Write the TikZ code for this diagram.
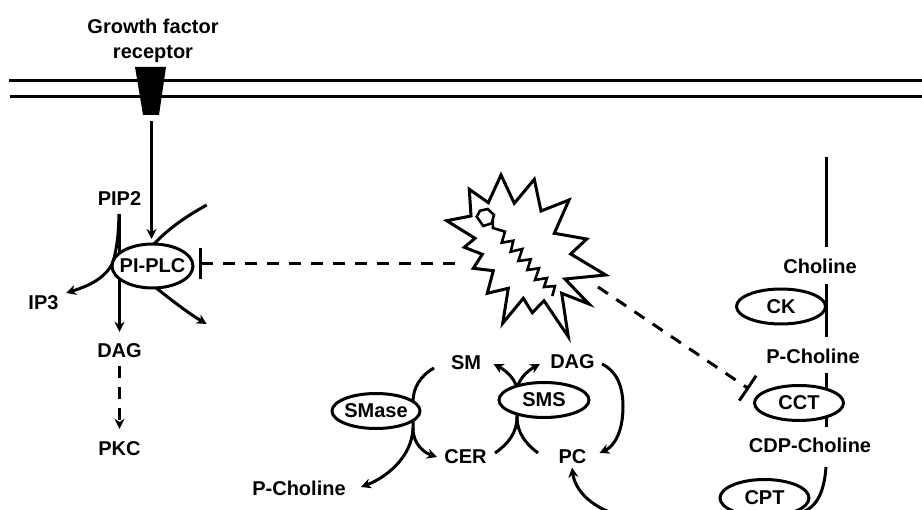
\documentclass[tikz,border=0pt]{standalone}
\usepackage{fontspec}
\setmainfont{Liberation Sans}
\usetikzlibrary{positioning, shapes.geometric, backgrounds, arrows.meta}

\begin{document}
\begin{tikzpicture}[
        x=1pt, y=-1pt,
        >={Stealth[length=10pt, width=10pt]},
        every node/.style={font=\fontsize{20}{25}\selectfont\bfseries},
        chem/.style={inner sep=8pt, text height=14pt, text depth=0pt},
        enzyme/.style={ellipse, draw=black, fill=white, line width=3pt, inner sep=0pt, minimum width=89pt, minimum height=35pt, text height=14pt, text depth=0pt},
        link/.style={line width=3pt},
        arrow/.style={->, line width=3pt},
        dasharrow/.style={->, line width=3pt, dash pattern=on 12pt off 9pt},
        block/.style={line width=3pt, dash pattern=on 12pt off 10pt},
        membrane/.style={line width=3pt}
    ]
        \useasboundingbox (0,0) rectangle (922,510);

        % Membrane and receptor
        \coordinate (memtopl) at (9,80.5);
        \coordinate (memtopr) at (922,80.5);
        \coordinate (membotl) at (10,96.5);
        \coordinate (membotr) at (922,96.5);
        \draw[membrane] (memtopl) -- (memtopr);
        \draw[membrane] (membotl) -- (membotr);
        \fill (135,67) -- (166,67) -- (159,115) -- (143,115) -- cycle;
        \coordinate (recout) at (151.5,121);

        % Nodes
        \node[align=center, inner sep=0pt] (gfr) at (153,41) {Growth factor\\receptor};
        \node[chem] (pip2) at (119.5,199) {PIP2};
        \node[enzyme, minimum width=81pt, minimum height=44pt] (plc) at (152.5,266) {\makebox[0pt]{PI-PLC}};
        \node[chem] (ip3) at (43.5,303) {IP3};
        \node[chem] (dag1) at (119.5,351) {DAG};
        \node[chem] (pkc) at (119.5,449) {PKC};
        \node[chem] (sm) at (466,363) {SM};
        \node[chem] (dag2) at (572.5,362) {DAG};
        \node[enzyme, minimum width=88pt] (smase) at (376,411) {\makebox[0pt]{SMase}};
        \node[enzyme, minimum width=90pt] (sms) at (544,400) {SMS};
        \node[chem] (cer) at (465.5,457) {CER};
        \node[chem] (pc) at (572.5,457) {PC};
        \node[chem] (pcho1) at (299,489) {P-Choline};
        \node[chem] (cho) at (820,267) {Choline};
        \node[enzyme] (ck) at (781,306.5) {CK};
        \node[chem] (pcho2) at (813,357) {P-Choline};
        \node[enzyme] (cct) at (799,403) {CCT};
        \node[chem] (cdp) at (810,446) {CDP-Choline};
        \node[enzyme, minimum height=37pt] (cpt) at (764.5,498) {CPT};

        % Burst
        \draw[line width=3pt, miter limit=10] (501,175) -- (514.3,203.3) -- (534.3,179.3) -- (541,211) -- (569,200) -- (554.3,233.3) -- (586.7,239) -- (570.7,254) -- (605.7,275) -- (565,279) -- (589,304) -- (561.7,293.3) -- (568.3,336.7) -- (544,300.7) -- (532.3,312.7) -- (523.3,298.3) -- (502.7,323.3) -- (508.3,288.3) -- (487.3,293.3) -- (493.3,270.7) -- (473.3,268.3) -- (482.3,254.3) -- (464.3,247.3) -- (475,238.3) -- (446.7,220.7) -- (471,216) -- (469.3,189.3) -- (488.3,202.7) -- cycle;
        \draw[line width=2.6pt] (476.7,216.7) -- (480,210.7) -- (487.7,209) -- (494,215) -- (491.7,223.3) -- (483.3,226) -- cycle;
        \draw[line width=2.6pt] (492.7,220) -- (493,228) -- (505,231.7) -- (501.7,242.7) -- (513.3,240.7) -- (510.7,251.7) -- (522.3,249) -- (518.3,261) -- (530.7,259.3) -- (527.3,270) -- (539,268.3) -- (535,280) -- (547,278) -- (544,287) -- (555,286) -- (552.3,296);

        % Free ends
        \coordinate (burstw) at (463,264);
        \coordinate (burste) at (598,287);
        \coordinate (plcbar) at (198.5,264);
        \coordinate (cctbar) at (749,389);
        \coordinate (plcin) at (206.7,205);
        \coordinate (plcout) at (206.7,324);
        \coordinate (chotop) at (826.5,157);

        % Connections
        \begin{scope}[on background layer]
            \draw[arrow] (recout) -- (151.5,239);
            \draw[arrow, shorten >=4pt] (pip2.south) -- (dag1.north);
            \draw[arrow] (119,214) .. controls (118.5,235) and (117,248) .. (113,262) .. controls (105,280) and (85,287) .. (66,293);
            \draw[link] (plcin) .. controls (185,217) and (168,229) .. (153,245);
            \draw[arrow] (155,287) .. controls (170,299) and (188,313) .. (plcout);
            \draw[dasharrow, shorten >=5pt] (dag1.south) -- (pkc.north);
            \draw[block, {Bar[width=31pt, line width=3pt]}-] (plcbar) -- (burstw);
            \draw[block, -{Bar[width=30pt, line width=3pt]}] (burste) -- (cctbar);

            \draw[link] (434,368) .. controls (420,376) and (413,388) .. (413,402) -- (413,428);
            \draw[arrow] (413,428) .. controls (413,445) and (425,453) .. (437,457);
            \draw[arrow] (413,428) .. controls (412,458) and (385,478) .. (361,487);
            \draw[arrow] (495,453) .. controls (508,444) and (517,433) .. (517,417) -- (517,388) .. controls (514,377) and (505,370) .. (493.5,364);
            \draw[arrow] (538,453) .. controls (526,444) and (517,433) .. (517,417) -- (517,388) .. controls (520,377) and (529,370) .. (540,364);
            \draw[arrow] (602,364) .. controls (618,372) and (623,388) .. (623,407) .. controls (623,430) and (615,446) .. (599.5,453);
            \draw[arrow] (826,467) .. controls (824,495) and (815,510) .. (798,513) -- (612,513) .. controls (590,505) and (575,490) .. (572,467.5);

            \draw[link] (chotop) -- (826.5,247);
            \draw[link] (826,284) -- (826,337);
            \draw[link] (826,373) -- (826,427);
        \end{scope}

    \end{tikzpicture}
\end{document}
